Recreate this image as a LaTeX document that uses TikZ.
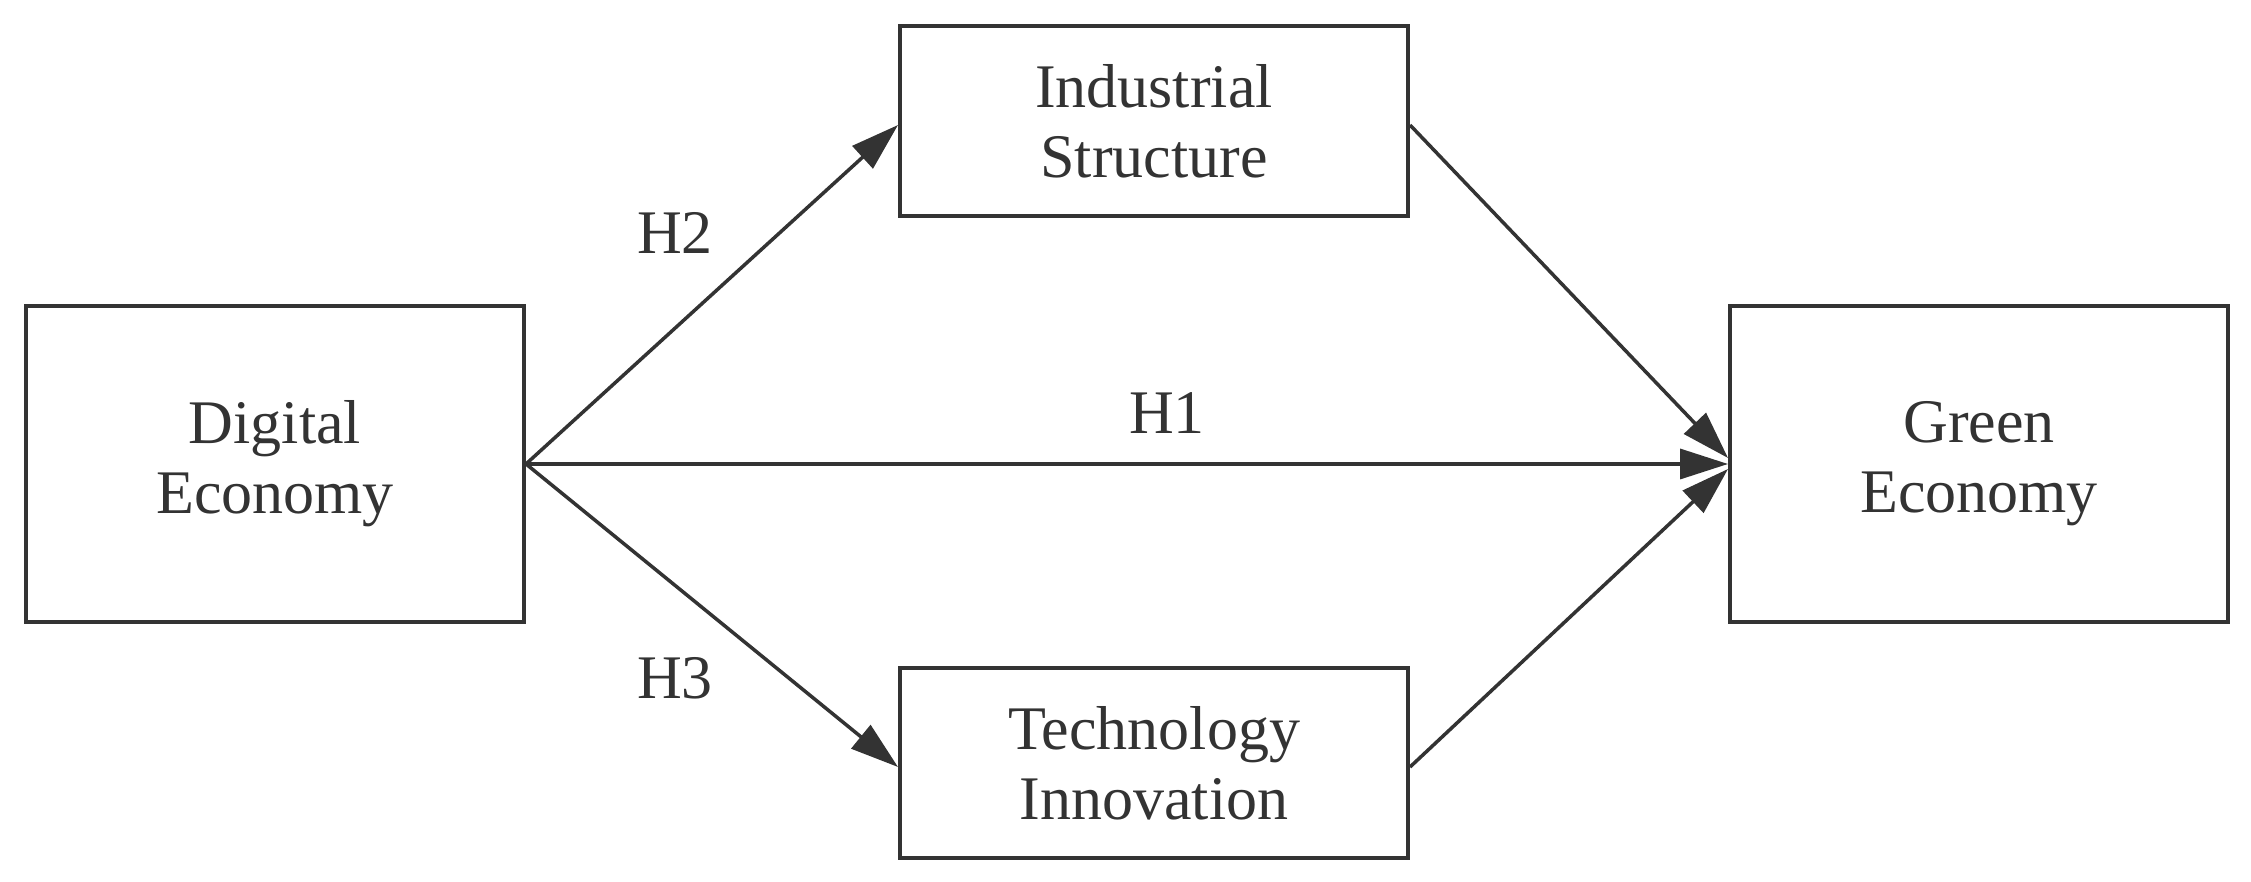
\documentclass[tikz,border=0pt]{standalone}
\usepackage{fontspec}
\setmainfont{Liberation Serif}
\usetikzlibrary{arrows.meta,calc}
\definecolor{ink}{HTML}{333333}
\begin{document}
\begin{tikzpicture}[x=1pt,y=1pt,
  box/.style={draw=ink, line width=4pt, fill=white, inner sep=0pt, align=center,
    text=ink, font=\fontsize{62}{70}\selectfont},
  bigbox/.style={box, minimum width=498pt, minimum height=316pt},
  midbox/.style={box, minimum width=508pt, minimum height=190pt},
  conn/.style={draw=ink, line width=3.5pt, -{Triangle[length=48pt,width=30pt]}},
  lbl/.style={text=ink, font=\fontsize{62}{70}\selectfont, inner sep=0pt}]
\useasboundingbox (0,0) rectangle (2251,881);
\node[bigbox] (de) at (275,417) {Digital\\Economy};
\node[midbox] (is) at (1154,760) {Industrial\\Structure};
\node[midbox] (ti) at (1154,118) {Technology\\Innovation};
\node[bigbox] (ge) at (1979,417) {Green\\Economy};
\coordinate (geu) at ($(ge.west)+(0,6)$);
\coordinate (ged) at ($(ge.west)+(0,-5)$);
\draw[conn] (de.east) -- (ge.west);
\draw[conn] (de.east) -- ($(is.west)+(0,-4)$);
\draw[conn] (de.east) -- ($(ti.west)+(0,-4)$);
\draw[conn] ($(is.east)+(0,-4)$) -- (geu);
\draw[conn] ($(ti.east)+(0,-4)$) -- (ged);
\node[lbl] (h1) at (1167,468) {H1};
\node[lbl] (h2) at (675,648) {H2};
\node[lbl] (h3) at (675,203) {H3};
\end{tikzpicture}
\end{document}
